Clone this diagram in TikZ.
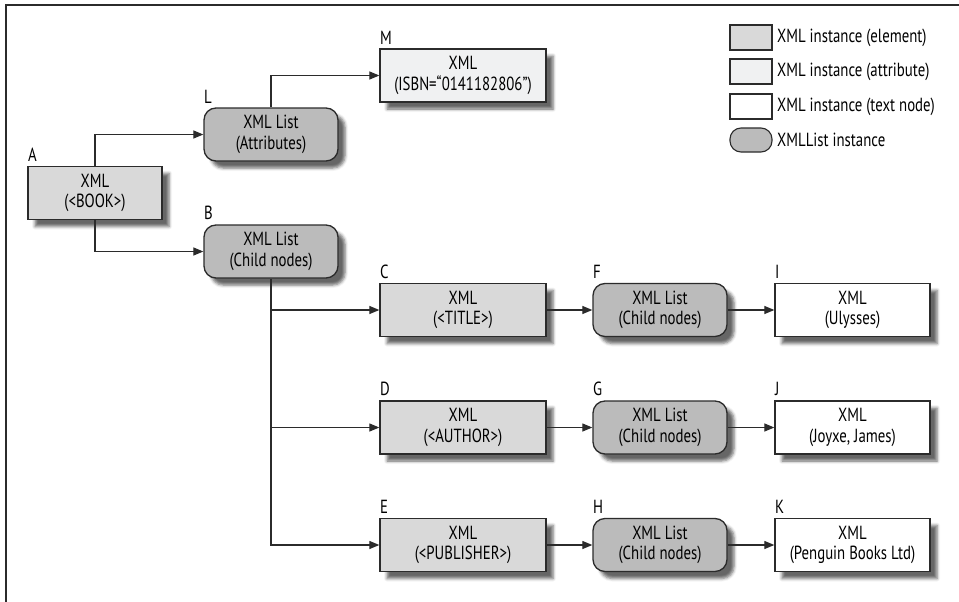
\documentclass[tikz,border=0pt]{standalone}
\usepackage{fontspec}
\setmainfont{PT Sans}[FakeStretch=0.78]
\usetikzlibrary{arrows.meta,shadows.blur}
\definecolor{elemfill}{HTML}{D9D9D9}
\definecolor{attrfill}{HTML}{F0F1F2}
\definecolor{listfill}{HTML}{BBBBBB}
\definecolor{linecol}{HTML}{2B2B2B}
\begin{document}
\begin{tikzpicture}[x=1pt,y=-1pt,
  font=\fontsize{19}{20.5}\selectfont,
  shad/.style={blur shadow={shadow xshift=7pt, shadow yshift=-7pt, shadow opacity=60, shadow blur radius=3pt}},
  basebox/.style={draw=linecol, line width=1.3pt, align=center, inner sep=0pt, minimum height=53pt},
  elem/.style={basebox, shad, fill=elemfill},
  attr/.style={basebox, shad, fill=attrfill},
  txt/.style={basebox, shad, fill=white},
  lst/.style={basebox, shad, fill=listfill, rounded corners=12pt, minimum width=134pt},
  lbl/.style={anchor=south west, inner sep=0pt, font=\fontsize{19}{20}\selectfont},
  conn/.style={draw=linecol, line width=1.2pt, -{Triangle[length=10pt,width=8pt]}},
  legbox/.style={draw=linecol, line width=1.1pt, minimum width=42pt, minimum height=25pt, inner sep=0pt},
  legtxt/.style={anchor=west, inner sep=0pt, font=\fontsize{19}{20}\selectfont}
]
\useasboundingbox (0,0) rectangle (959,602);
\draw[line width=1.6pt, linecol] (6,602) -- (6,5) -- (959,5);

% nodes
\node[elem, minimum width=134pt] (A) at (95,193) {XML\\(<BOOK>)};
\node[lst] (L) at (271,134.5) {XML List\\(Attributes)};
\node[attr, minimum width=166pt] (M) at (463,75.5) {XML\\(ISBN=“0141182806”)};
\node[lst] (B) at (271,251.5) {XML List\\(Child nodes)};
\node[elem, minimum width=166pt] (C) at (463,310) {XML\\(<TITLE>)};
\node[elem, minimum width=166pt] (D) at (463,427.5) {XML\\(<AUTHOR>)};
\node[elem, minimum width=166pt] (E) at (463,545) {XML\\(<PUBLISHER>)};
\node[lst] (F) at (660,310) {XML List\\(Child nodes)};
\node[lst] (G) at (660,427.5) {XML List\\(Child nodes)};
\node[lst] (H) at (660,545) {XML List\\(Child nodes)};
\node[txt, minimum width=155pt] (I) at (852.5,310) {XML\\(Ulysses)};
\node[txt, minimum width=155pt] (J) at (852.5,427.5) {XML\\(Joyxe, James)};
\node[txt, minimum width=155pt] (K) at (852.5,545) {XML\\(Penguin Books Ltd)};

% letter labels
\foreach \n in {A,B,C,D,E,F,G,H,I,J,K,L,M}
  \node[lbl] (lab\n) at ([yshift=4pt,xshift=0.5pt]\n.north west) {\n};

% connectors
\draw[conn] (A.north) |- (L.west);
\draw[conn] (L.north) |- (M.west);
\draw[conn] (A.south) |- (B.west);
\draw[conn] (B.south) |- (E.west);
\draw[conn] (B.south |- C.west) -- (C.west);
\draw[conn] (B.south |- D.west) -- (D.west);
\draw[conn] (C.east) -- (F.west);
\draw[conn] (D.east) -- (G.west);
\draw[conn] (E.east) -- (H.west);
\draw[conn] (F.east) -- (I.west);
\draw[conn] (G.east) -- (J.west);
\draw[conn] (H.east) -- (K.west);

% legend
\node[legbox, fill=elemfill] (lg1) at (751,37.5) {};
\node[legbox, fill=attrfill] (lg2) at (751,71.5) {};
\node[legbox, fill=white] (lg3) at (751,106.5) {};
\node[legbox, fill=listfill, rounded corners=11pt, minimum height=24pt] (lg4) at (751,140) {};
\node[legtxt] (lt1) at (777,37.5) {XML instance (element)};
\node[legtxt] (lt2) at (777,71.5) {XML instance (attribute)};
\node[legtxt] (lt3) at (777,106.5) {XML instance (text node)};
\node[legtxt] (lt4) at (777,140) {XMLList instance};
\end{tikzpicture}
\end{document}
